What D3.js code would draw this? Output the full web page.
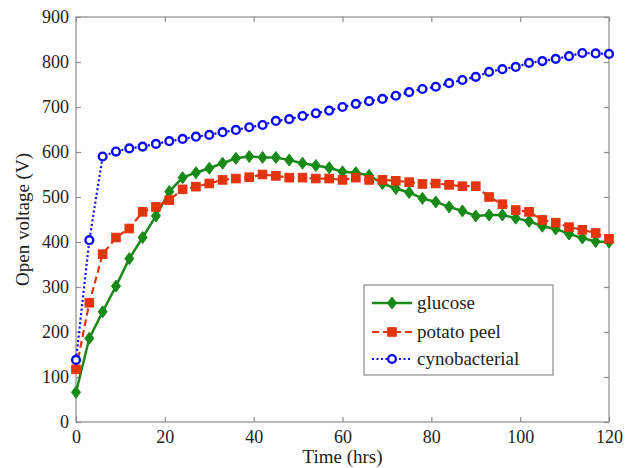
<!DOCTYPE html>
<html>
<head>
<meta charset="utf-8">
<script src="https://cdn.jsdelivr.net/npm/d3@7"></script>
<style>
  body { margin: 0; background: #fff; }
  svg { display: block; }
  svg text { font-family: "Times New Roman", "Liberation Serif", "DejaVu Serif", serif !important; fill: #222; }
</style>
</head>
<body>
<svg id="chart" width="635" height="468"></svg>
<script>
const hours = [0,3,6,9,12,15,18,21,24,27,30,33,36,39,42,45,48,51,54,57,60,63,66,69,72,75,78,81,84,87,90,93,96,99,102,105,108,111,114,117,120];
const glucose = [66,186,245,302,363,410,458,512,543,554,564,575,586,590,588,588,582,575,570,565,556,554,548,530,519,510,497,489,478,469,458,460,460,453,446,435,429,418,409,401,400];
const potatoPeel = [117,265,373,410,430,467,478,493,517,523,530,538,541,544,550,547,543,543,541,541,538,543,538,538,536,533,529,530,527,524,524,500,484,471,467,449,443,433,427,420,407];
const cynobacterial = [138,404,590,601,608,612,618,624,629,634,638,644,649,655,660,669,673,680,686,692,700,707,713,718,725,733,740,745,753,760,767,778,784,789,798,802,807,813,820,819,818];
const xTicks = [0,20,40,60,80,100,120];
const yTicks = [0,100,200,300,400,500,600,700,800,900];
const seriesNames = ["glucose","potato peel","cynobacterial"];

const FONT = "'Times New Roman', 'Liberation Serif', serif";
const svg = d3.select("#chart");
const m = {left: 76, top: 17, right: 26, bottom: 46};
const W = 635 - m.left - m.right, H = 468 - m.top - m.bottom;
const g = svg.append("g").attr("transform", `translate(${m.left},${m.top})`);

const x = d3.scaleLinear().domain([0,120]).range([0,W]);
const y = d3.scaleLinear().domain([0,900]).range([H,0]);

const axisColor = "#8c8c8c";
const fs = "18px";

g.append("rect").attr("x",0).attr("y",0).attr("width",W).attr("height",H)
  .attr("fill","none").attr("stroke",axisColor).attr("stroke-width",1.2);

function styleAxis(sel, showLabels){
  sel.attr("font-family", FONT).attr("font-size", fs);
  sel.select(".domain").remove();
  sel.selectAll(".tick line").attr("stroke",axisColor).attr("stroke-width",1.2);
  sel.selectAll(".tick text").attr("font-family",FONT).attr("fill","#222");
  if(!showLabels) sel.selectAll(".tick text").remove();
}
g.append("g").attr("transform",`translate(0,${H})`)
  .call(d3.axisBottom(x).tickValues(xTicks).tickSize(-5).tickPadding(8))
  .call(s=>styleAxis(s,true));
g.append("g").call(d3.axisTop(x).tickValues(xTicks).tickSize(-5)).call(s=>styleAxis(s,false));
g.append("g").call(d3.axisLeft(y).tickValues(yTicks).tickSize(-5).tickPadding(7))
  .call(s=>styleAxis(s,true));
g.append("g").attr("transform",`translate(${W},0)`)
  .call(d3.axisRight(y).tickValues(yTicks).tickSize(-5)).call(s=>styleAxis(s,false));

svg.append("text").attr("x", m.left + W/2).attr("y", 463).attr("text-anchor","middle")
  .attr("font-family",FONT).attr("font-size","19px").text("Time (hrs)");
svg.append("text").attr("transform",`translate(29,${m.top + H/2}) rotate(-90)`)
  .attr("text-anchor","middle").attr("font-family",FONT).attr("font-size","19px").text("Open voltage (V)");

const styles = [
  {data: glucose, color: "#178a17", dash: null, width: 2.5, marker: "diamond"},
  {data: potatoPeel, color: "#e2340e", dash: "7,4", width: 2.2, marker: "square"},
  {data: cynobacterial, color: "#0a0aff", dash: "2,2.5", width: 2.2, marker: "circle"}
];

function drawMarker(sel, type, color){
  if(type === "diamond"){
    sel.append("path").attr("d","M0,-6L4.5,0L0,6L-4.5,0Z").attr("fill",color).attr("stroke",color).attr("stroke-width",1);
  } else if(type === "square"){
    sel.append("rect").attr("x",-4.3).attr("y",-4.3).attr("width",8.6).attr("height",8.6)
      .attr("fill",color).attr("stroke",color).attr("stroke-width",1);
  } else {
    sel.append("circle").attr("r",3.9).attr("fill","#fff").attr("stroke",color).attr("stroke-width",2.4);
  }
}

const line = d3.line().x((d,i)=>x(hours[i])).y(d=>y(d));
styles.forEach(s=>{
  g.append("path").datum(s.data).attr("d",line).attr("fill","none")
    .attr("stroke",s.color).attr("stroke-width",s.width)
    .attr("stroke-dasharray",s.dash);
  const mk = g.append("g").selectAll("g").data(s.data).join("g")
    .attr("transform",(d,i)=>`translate(${x(hours[i])},${y(d)})`);
  mk.each(function(){ drawMarker(d3.select(this), s.marker, s.color); });
});

const lg = svg.append("g").attr("transform","translate(364,285)");
lg.append("rect").attr("width",189).attr("height",90).attr("fill","#fff")
  .attr("stroke",axisColor).attr("stroke-width",1.2);
const rowY = [18,47,74];
styles.forEach((s,i)=>{
  const r = lg.append("g").attr("transform",`translate(0,${rowY[i]})`);
  r.append("line").attr("x1",8).attr("x2",48).attr("y1",0).attr("y2",0)
    .attr("stroke",s.color).attr("stroke-width",s.width).attr("stroke-dasharray",s.dash);
  drawMarker(r.append("g").attr("transform","translate(28,0)"), s.marker, s.color);
  r.append("text").attr("x",53).attr("y",6).attr("font-family",FONT).attr("font-size","19px").text(seriesNames[i]);
});
</script>
</body>
</html>
